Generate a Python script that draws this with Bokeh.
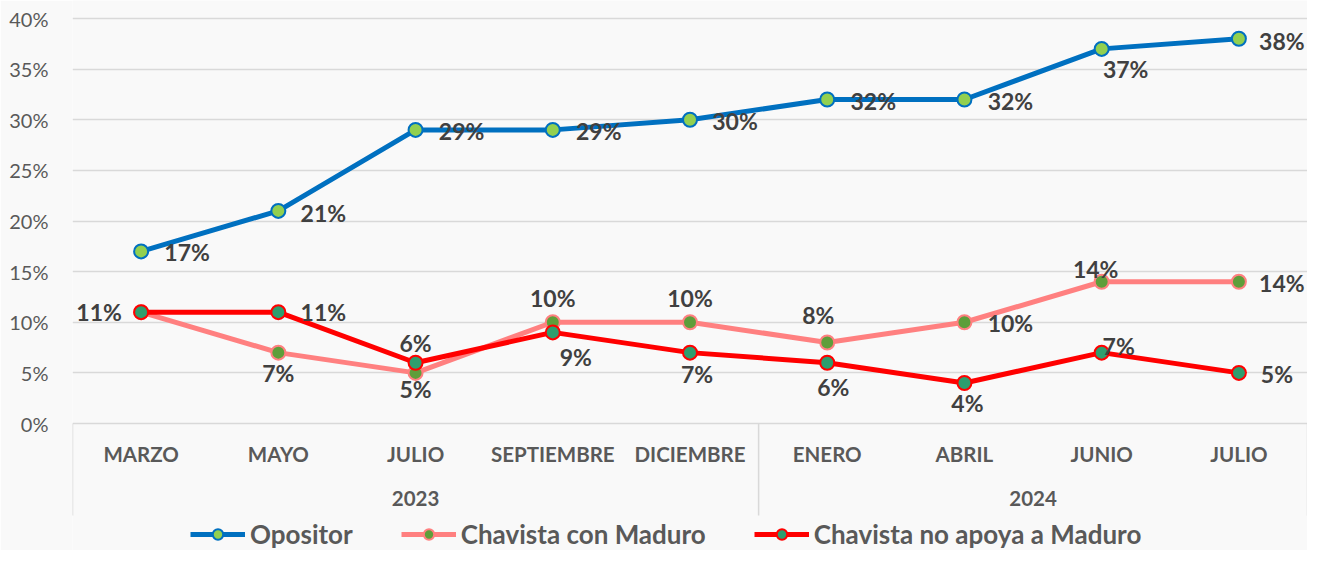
from bokeh.plotting import figure
from bokeh.models import FixedTicker, Range1d, Legend, LegendItem
from bokeh.core.properties import value
from bokeh.embed import file_html
from bokeh.resources import INLINE

# ---------------- data ----------------
months = ["MARZO", "MAYO", "JULIO", "SEPTIEMBRE", "DICIEMBRE",
          "ENERO", "ABRIL", "JUNIO", "JULIO"]
years = ["2023", "2024"]
months_per_year = [5, 4]

opositor = [17, 21, 29, 29, 30, 32, 32, 37, 38]
con_maduro = [11, 7, 5, 10, 10, 8, 10, 14, 14]
no_apoya = [11, 11, 6, 9, 7, 6, 4, 7, 5]

series_names = ["Opositor", "Chavista con Maduro", "Chavista no apoya a Maduro"]
y_ticks = [0, 5, 10, 15, 20, 25, 30, 35, 40]

# label offsets in screen px (dx, dy-down); None = label hidden
off_opositor = [(46, 1), (45, 2), (46, 1), (46, 1), (45, 1), (46, 1), (46, 1), (24, 20), (43, 2)]
off_con = [(-42, 0), (0, 20), (0, 16), (0, -24), (0, -24), (-9, -28), (46, 1), (-6, -13), (43, 1)]
off_no = [None, (45, 0), (0, -20), (23, 25), (7, 21), (6, 24), (3, 20), (17, -7), (38, 1)]

# ---------------- styles ----------------
FONT = "Lato"
BG = "#f9f9f9"
GRID = "#d9d9d9"
TXT = "#595959"
LBL = "#404040"

styles = [
    dict(line="#0070C0", fill="#92D050"),
    dict(line="#FF8080", fill="#5E9E3A"),
    dict(line="#FF0000", fill="#2E9E6E"),
]

PX = 10.125  # px per percent point
ZERO_Y = 423
y_top = 40 + 18 / PX
y_bot = -(550 - ZERO_Y) / PX

p = figure(width=1307, height=550, output_backend="svg", toolbar_location=None,
           x_range=Range1d(0, len(months)), y_range=Range1d(y_bot, y_top),
           min_border_left=72, min_border_right=0, min_border_top=0, min_border_bottom=0,
           background_fill_color=BG, border_fill_color=BG, outline_line_color=None)

p.xaxis.visible = False
p.xgrid.visible = False
p.ygrid.ticker = FixedTicker(ticks=y_ticks)
p.ygrid.grid_line_color = GRID
p.ygrid.grid_line_width = 1.5

ax = p.yaxis[0]
ax.ticker = FixedTicker(ticks=y_ticks)
ax.major_label_overrides = {t: f"{t}%" for t in y_ticks}
ax.axis_line_color = None
ax.major_tick_line_color = None
ax.minor_tick_line_color = None
ax.major_tick_out = 0
ax.major_tick_in = 0
ax.major_label_standoff = 24
ax.major_label_text_font = FONT
ax.major_label_text_font_size = "20px"
ax.major_label_text_color = TXT

xs = [i + 0.5 for i in range(len(months))]

# category axis drawn inside the frame (below zero)
sep_x = [0]
for n in months_per_year:
    sep_x.append(sep_x[-1] + n)
p.segment(x0=sep_x, y0=[0] * len(sep_x), x1=sep_x, y1=[-(515 - ZERO_Y) / PX] * len(sep_x),
          line_color=GRID, line_width=1.5)
p.text(x=xs, y=[-(453 - ZERO_Y) / PX] * len(xs), text=months,
       text_font=value(FONT), text_font_style="bold", text_font_size="20.5px",
       text_color=TXT, text_align="center", text_baseline="middle")
year_x = [(sep_x[i] + sep_x[i + 1]) / 2 for i in range(len(years))]
p.text(x=year_x, y=[-(498 - ZERO_Y) / PX] * len(years), text=years,
       text_font=value(FONT), text_font_style="bold", text_font_size="20.5px",
       text_color=TXT, text_align="center", text_baseline="middle")

# series (draw order: pink, red, blue)
all_series = [opositor, con_maduro, no_apoya]
all_offsets = [off_opositor, off_con, off_no]
renderers = {}
for idx in [1, 2, 0]:
    vals = all_series[idx]
    st = styles[idx]
    ln = p.line(xs, vals, line_color=st["line"], line_width=5, line_join="round")
    sc = p.scatter(xs, vals, size=14, fill_color=st["fill"], line_color=st["line"], line_width=2)
    renderers[idx] = [ln, sc]

for idx in [1, 2, 0]:
    vals = all_series[idx]
    offs = all_offsets[idx]
    for x, v, o in zip(xs, vals, offs):
        if o is None:
            continue
        p.text(x=[x], y=[v], text=[f"{v}%"], x_offset=o[0], y_offset=o[1],
               text_font=value(FONT), text_font_style="bold", text_font_size="23px",
               text_color=LBL, text_align="center", text_baseline="middle")

legend = Legend(items=[LegendItem(label=series_names[i], renderers=renderers[i]) for i in range(3)],
                orientation="horizontal", location=(118, 0),
                glyph_width=55, glyph_height=26, label_height=26, label_standoff=5,
                spacing=48, padding=0, margin=0,
                background_fill_alpha=0, border_line_color=None,
                label_text_font=FONT, label_text_font_style="bold",
                label_text_font_size="26px", label_text_color=TXT)
p.add_layout(legend)

open("out.html", "w").write(file_html(p, INLINE))
